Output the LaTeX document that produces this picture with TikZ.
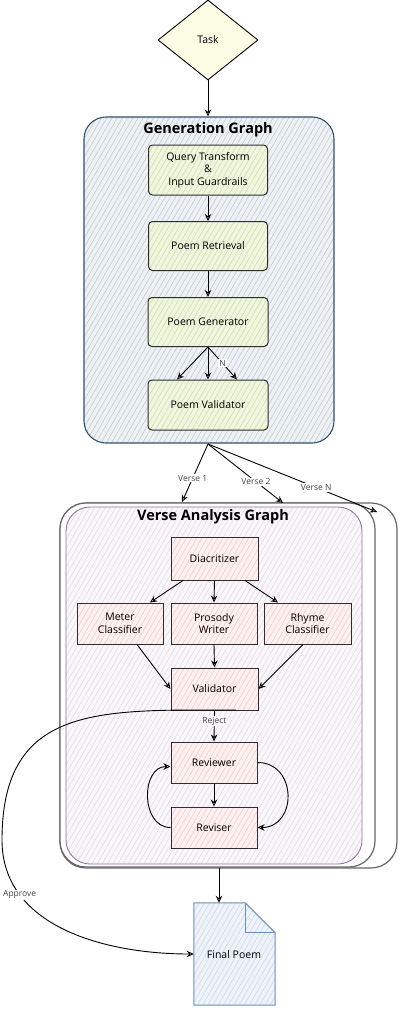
\documentclass[tikz,border=0pt]{standalone}
\usepackage{fontspec}
\setmainfont{Open Sans}
\usetikzlibrary{shapes.geometric,arrows.meta,patterns.meta,calc}
\definecolor{cdark}{HTML}{2E2E2E}
\definecolor{ctask}{HTML}{FDFDE6}
\definecolor{cgenstroke}{HTML}{34506A}
\definecolor{cgenfill}{HTML}{EEF1F4}
\definecolor{cgenhatch}{HTML}{B9C5D0}
\definecolor{cgreenfill}{HTML}{EFF5E2}
\definecolor{cgreenhatch}{HTML}{C9E08F}
\definecolor{cpinkfill}{HTML}{FCF1F0}
\definecolor{cpinkhatch}{HTML}{F2C4C2}
\definecolor{cpurple}{HTML}{9673A6}
\definecolor{cpurplefill}{HTML}{FAF7FB}
\definecolor{cpurplehatch}{HTML}{E1D5E7}
\definecolor{cstack}{HTML}{666666}
\definecolor{cdocstroke}{HTML}{6C8EBF}
\definecolor{cdocfill}{HTML}{EEF2F9}
\definecolor{cdochatch}{HTML}{C9D6EA}
\definecolor{clabel}{HTML}{444444}
\begin{document}
\begin{tikzpicture}[x=1pt,y=-1pt,
  hatched/.style 2 args={preaction={fill=#1},preaction={pattern={Lines[angle=60,distance=4.5pt,line width=0.5pt]},pattern color=#2}},
  taskbox/.style={diamond,draw=black,line width=0.9pt,fill=ctask,minimum width=100pt,minimum height=80pt,inner sep=0pt,font=\fontsize{10.5}{12}\selectfont},
  genbox/.style={draw=cgenstroke,line width=1.1pt,rounded corners=22pt,hatched={cgenfill}{cgenhatch}},
  greenbox/.style={draw=cdark,line width=1pt,rounded corners=4pt,hatched={cgreenfill}{cgreenhatch},align=center,inner sep=0pt,font=\fontsize{10.5}{12.5}\selectfont},
  pinkbox/.style={draw=cdark,line width=1pt,hatched={cpinkfill}{cpinkhatch},align=center,inner sep=0pt,font=\fontsize{10.5}{12.5}\selectfont},
  stackcard/.style={draw=cstack,line width=1.2pt,rounded corners=26pt,fill=white},
  versebox/.style={draw=cpurple,line width=0.9pt,rounded corners=24pt,hatched={cpurplefill}{cpurplehatch}},
  title/.style={font=\bfseries\fontsize{14.5}{16}\selectfont},
  conn/.style={draw=black,line width=0.9pt,-{Stealth[open,length=7pt,width=6.5pt]}},
  lbl/.style={font=\fontsize{8.5}{10}\selectfont,text=clabel,fill=white,inner sep=1pt},
  docbox/.style={draw=cdocstroke,line width=1pt,hatched={cdocfill}{cdochatch}}
]
\useasboundingbox (0,0) rectangle (417,1014);

% Task
\node[taskbox] (task) at (208,40) {Task};

% Generation graph
\node[genbox,minimum width=250pt,minimum height=326pt] (gen) at (209,280) {};
\node[title] (gentitle) at (208,130) {Generation Graph};
\node[greenbox,minimum width=119pt,minimum height=50pt] (qt) at (208,170) {Query Transform\\\&\\Input Guardrails};
\node[greenbox,minimum width=119pt,minimum height=49pt] (pr) at (208,246) {Poem Retrieval};
\node[greenbox,minimum width=120pt,minimum height=49pt] (pg) at (208,322) {Poem Generator};
\node[greenbox,minimum width=120pt,minimum height=50pt] (pv) at (208,405) {Poem Validator};

\draw[conn] (task.south) -- (gen.north -| task.south);
\draw[conn] (qt.south) -- (pr.north);
\draw[conn] (pr.south) -- (pg.north);
\draw[conn] (pg.south) -- ($(pv.north)+(-31,0)$);
\draw[conn] (pg.south) -- (pv.north);
\draw[conn] (pg.south) -- node[lbl,pos=0.5] {N} ($(pv.north)+(29,0)$);

% Verse analysis stack
\node[stackcard,minimum width=337pt,minimum height=365pt] (cardB) at (228.5,685.5) {};
\node[stackcard,minimum width=315pt,minimum height=364pt] (cardA) at (217.5,685) {};
\node[versebox,minimum width=296pt,minimum height=357pt] (verse) at (214,685.5) {};
\node[title] (versetitle) at (213,517) {Verse Analysis Graph};

\coordinate (v1) at (182,502);
\coordinate (v2) at (283,503);
\coordinate (vN) at (377,512);
\coordinate (gout) at (208,444);
\draw[conn] (gout) -- node[lbl,pos=0.59] {Verse 1} (v1);
\draw[conn] (gout) -- node[lbl,pos=0.64] {Verse 2} (v2);
\draw[conn] (gout) -- node[lbl,pos=0.64] {Verse N} (vN);

\node[pinkbox,minimum width=87pt,minimum height=43pt] (dia) at (214.5,558.5) {Diacritizer};
\node[pinkbox,minimum width=86pt,minimum height=41pt] (mc) at (120,623.5) {Meter\\Classifier};
\node[pinkbox,minimum width=86pt,minimum height=41pt] (pw) at (214,623.5) {Prosody\\Writer};
\node[pinkbox,minimum width=87pt,minimum height=41pt] (rc) at (307.5,623.5) {Rhyme\\Classifier};
\node[pinkbox,minimum width=87pt,minimum height=42pt] (val) at (214.5,689) {Validator};
\node[pinkbox,minimum width=86pt,minimum height=41pt] (rev) at (214,762.5) {Reviewer};
\node[pinkbox,minimum width=86pt,minimum height=41pt] (rsr) at (214,827.5) {Reviser};

\draw[conn] ($(dia.south)+(-31.5,0)$) -- ($(mc.north)+(30,0)$);
\draw[conn] (dia.south) -- (pw.north);
\draw[conn] ($(dia.south)+(30.5,0)$) -- ($(rc.north)+(-29.5,0)$);
\draw[conn] ($(mc.south)+(17,0)$) -- (val.west);
\draw[conn] (pw.south) -- (val.north);
\draw[conn] ($(rc.south)+(-4.5,0)$) -- (val.east);
\draw[conn] (val.south) -- node[lbl,pos=0.35,fill=cpurplefill] {Reject} (rev.north);
\draw[conn] (rev.south) -- (rsr.north);
\draw[conn] (rev.east) .. controls +(40,0) and +(40,0) .. (rsr.east);
\draw[conn] (rsr.west) .. controls +(-30,0) and +(-30,0) .. ($(rev.west)+(0,4)$);

% Final poem
\node[minimum width=81pt,minimum height=102pt,inner sep=0pt] (fp) at (234.5,954) {};
\draw[docbox] (fp.north west) -- ($(fp.north east)+(-30,0)$) -- ($(fp.north east)+(0,30)$) -- (fp.south east) -- (fp.south west) -- cycle;
\draw[draw=cdocstroke,line width=1pt] ($(fp.north east)+(-30,0)$) -- ($(fp.north east)+(-30,30)$) -- ($(fp.north east)+(0,30)$);
\node[font=\fontsize{10.5}{12}\selectfont] (fptext) at (234,955) {Final Poem};

\coordinate (sout) at (219,868);
\draw[conn] (sout) -- (sout |- fp.north);

% Approve curve
\coordinate (apstart) at (236,710);
\coordinate (apbend) at (2,840);
\draw[conn] (apstart) to[out=180,in=90,looseness=1.3] (apbend) to[out=-90,in=180] node[lbl,pos=0.25] {Approve} (fp.west);
\end{tikzpicture}
\end{document}
